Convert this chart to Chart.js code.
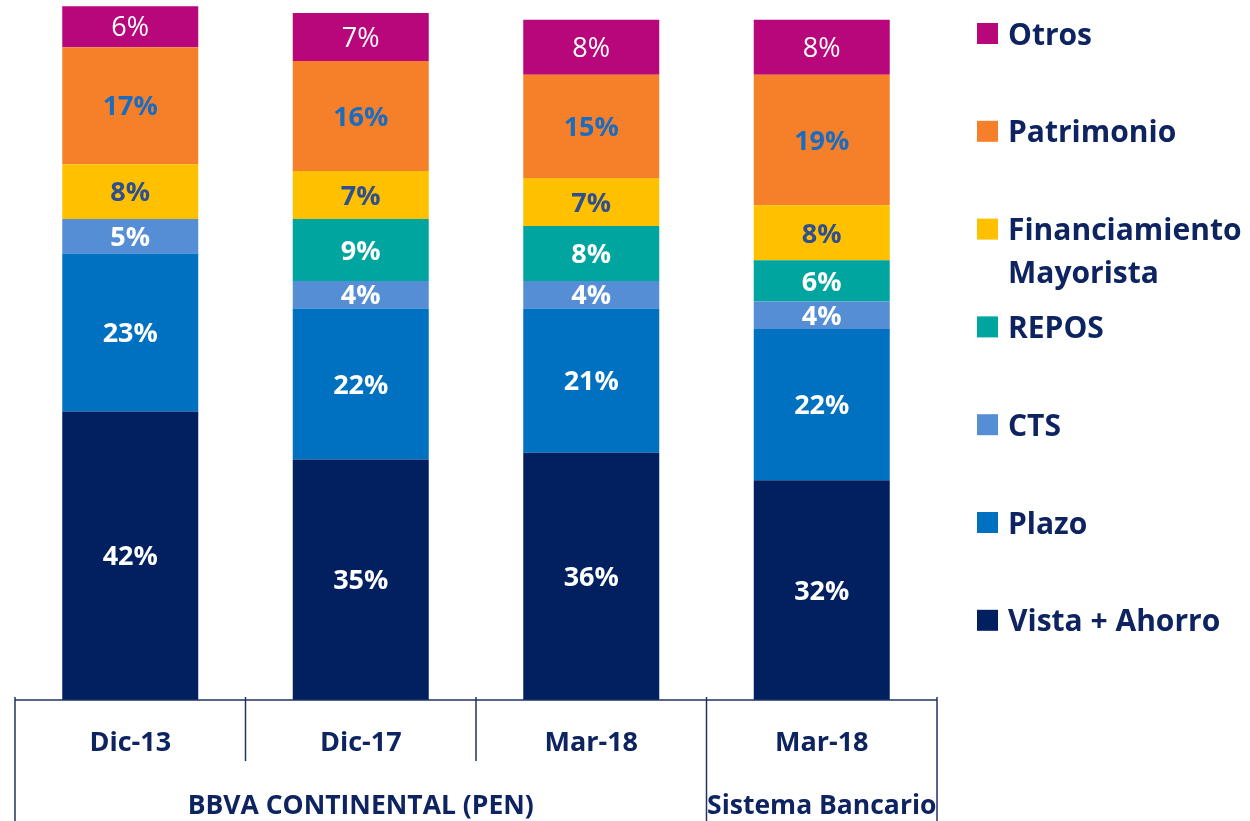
<!DOCTYPE html>
<html>
<head>
<meta charset="utf-8">
<script src="https://cdn.jsdelivr.net/npm/chart.js@4.4.1/dist/chart.umd.min.js"></script>
<style>
    html, body { margin: 0; padding: 0; background: #fff; }
    #wrap { width: 1250px; height: 821px; }
</style>
</head>
<body>
<div id="wrap"><canvas id="fundingChart"></canvas></div>
<script>
// Funding structure, share of total (%)
const periods = ['Dic-13', 'Dic-17', 'Mar-18', 'Mar-18'];
const groups = [
    { label: 'BBVA CONTINENTAL (PEN)', from: 0, to: 2 },
    { label: 'Sistema Bancario', from: 3, to: 3 }
];

const vistaAhorro = [42, 35, 36, 32];
const plazo = [23, 22, 21, 22];
const cts = [5, 4, 4, 4];
const repos = [null, 9, 8, 6];
const financiamiento = [8, 7, 7, 8];
const patrimonio = [17, 16, 15, 19];
const otros = [6, 7, 8, 8];

const NAVY = '#0E2461';
const FONT = "'Open Sans', Lato, sans-serif";

// bottom to top
const series = [
    { name: ['Vista + Ahorro'], data: vistaAhorro, color: '#02205F', text: '#ffffff', weight: 'bold' },
    { name: ['Plazo'], data: plazo, color: '#0070C0', text: '#ffffff', weight: 'bold' },
    { name: ['CTS'], data: cts, color: '#558ED5', text: '#ffffff', weight: 'bold' },
    { name: ['REPOS'], data: repos, color: '#00A5A0', text: '#ffffff', weight: 'bold' },
    { name: ['Financiamiento', 'Mayorista'], data: financiamiento, color: '#FFC000', text: '#2F4F8F', weight: 'bold' },
    { name: ['Patrimonio'], data: patrimonio, color: '#F68029', text: '#1A6CC0', weight: 'bold' },
    { name: ['Otros'], data: otros, color: '#B8077A', text: '#ffffff', weight: 'normal' }
];

// -------------------------------
//  PLUGIN: value labels inside segments
// -------------------------------
const segmentLabels = {
    id: 'segmentLabels',
    afterDatasetsDraw(chart) {
        const ctx = chart.ctx;
        ctx.save();
        ctx.textAlign = 'center';
        ctx.textBaseline = 'middle';
        chart.data.datasets.forEach((ds, i) => {
            const meta = chart.getDatasetMeta(i);
            const s = series[i];
            ctx.fillStyle = s.text;
            ctx.font = `${s.weight} 27px ${FONT}`;
            meta.data.forEach((bar, j) => {
                const v = ds.data[j];
                if (v == null) return;
                const p = bar.getProps(['x', 'y', 'base'], true);
                ctx.fillText(v + '%', p.x, (p.y + p.base) / 2 + 2);
            });
        });
        ctx.restore();
    }
};

// -------------------------------
//  PLUGIN: boxed two-level axis + side legend
// -------------------------------
const axisFrame = {
    id: 'axisFrame',
    afterDraw(chart) {
        const ctx = chart.ctx;
        const area = chart.chartArea;
        const x = chart.scales.x;
        const half = (x.getPixelForValue(1) - x.getPixelForValue(0)) / 2;
        const bottom = chart.height;
        const midRow = area.bottom + 61;

        ctx.save();
        ctx.strokeStyle = '#1F3466';
        ctx.lineWidth = 1.5;
        ctx.beginPath();
        ctx.moveTo(area.left, area.bottom);
        ctx.lineTo(area.right, area.bottom);
        // separators between periods
        for (let i = 0; i <= periods.length; i++) {
            const px = x.getPixelForValue(0) - half + i * 2 * half;
            const isEdge = groups.some(g => i === g.from || i === g.to + 1);
            ctx.moveTo(px, area.bottom - 3);
            ctx.lineTo(px, isEdge ? bottom : midRow);
        }
        ctx.stroke();

        // group captions
        ctx.fillStyle = NAVY;
        ctx.font = `bold 26.5px ${FONT}`;
        ctx.textAlign = 'center';
        ctx.textBaseline = 'middle';
        groups.forEach(g => {
            const cx = (x.getPixelForValue(g.from) + x.getPixelForValue(g.to)) / 2;
            ctx.fillText(g.label, cx, area.bottom + 106);
        });

        // legend, top item first
        const lx = 977, ly = 33, step = 97.8;
        ctx.textAlign = 'left';
        ctx.font = `bold 30px ${FONT}`;
        let row = 0;
        [...series].reverse().forEach(s => {
            const cy = ly + row * step;
            ctx.fillStyle = s.color;
            ctx.fillRect(lx, cy - 10, 21, 21);
            ctx.fillStyle = NAVY;
            s.name.forEach((line, k) => ctx.fillText(line, lx + 31, cy + 3 + k * 43));
            row += 1;
        });
        ctx.restore();
    }
};

new Chart(document.getElementById('fundingChart'), {
    type: 'bar',
    data: {
        labels: periods,
        datasets: series.map(s => ({
            label: s.name.join(' '),
            data: s.data,
            backgroundColor: s.color,
            borderWidth: 0,
            barPercentage: 0.59,
            categoryPercentage: 1.0,
            clip: false
        }))
    },
    options: {
        responsive: true,
        maintainAspectRatio: false,
        animation: false,
        layout: { padding: { left: 15, right: 313, top: 13, bottom: 0 } },
        scales: {
            x: {
                stacked: true,
                grid: { display: false, drawTicks: false },
                border: { display: false },
                ticks: { color: NAVY, font: { family: FONT, size: 27, weight: 'bold' }, padding: 27 },
                afterFit: scale => { scale.height = 121; }
            },
            y: {
                stacked: true,
                display: false,
                min: 0,
                max: 100
            }
        },
        plugins: {
            legend: { display: false },
            tooltip: { enabled: false }
        }
    },
    plugins: [segmentLabels, axisFrame]
});
</script>
</body>
</html>
